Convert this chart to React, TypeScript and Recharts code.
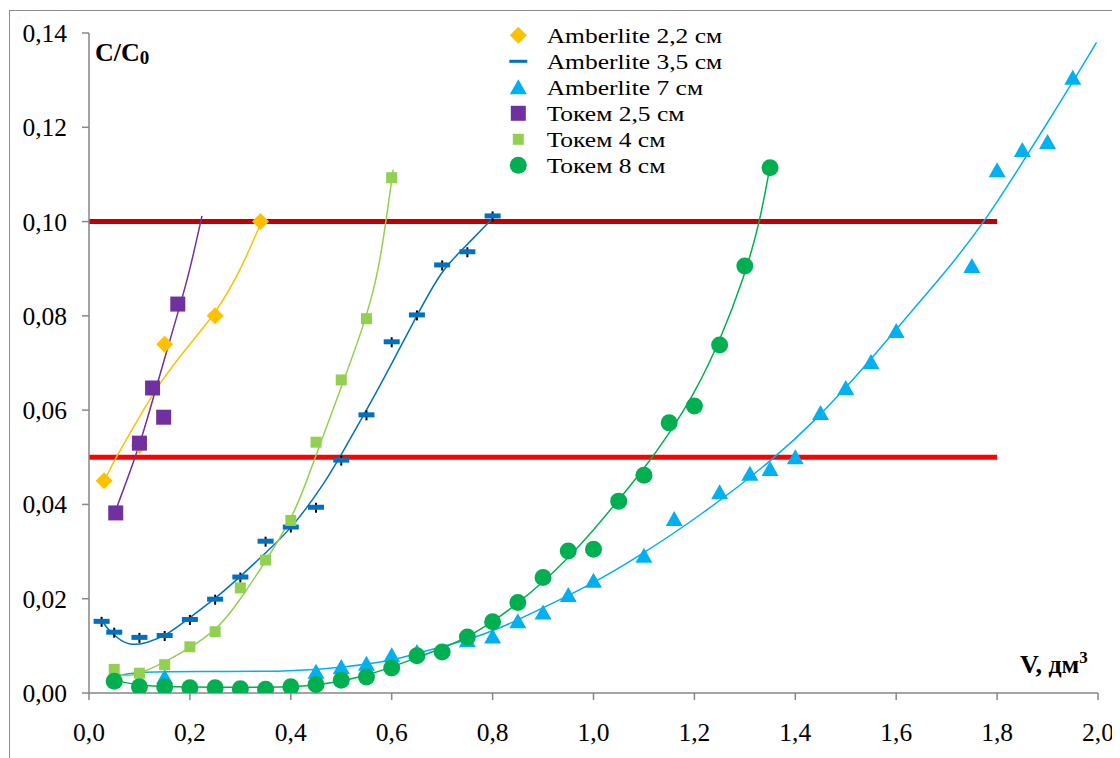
import React from 'react';
import { ComposedChart, Line, Scatter, XAxis, YAxis } from 'recharts';

const FONT = '"Liberation Serif", "Times New Roman", serif';

// Amberlite 2,2 см
const amb22X = [0.03, 0.1, 0.15, 0.25, 0.34];
const amb22Y = [0.045, 0.0525, 0.074, 0.08, 0.1];
const amb22TrendX = [0.031, 0.054, 0.1, 0.14, 0.193, 0.252, 0.299, 0.342];
const amb22TrendY = [0.0452, 0.0501, 0.0586, 0.0658, 0.0732, 0.0806, 0.0893, 0.1];

// Amberlite 3,5 см
const amb35X = [0.025, 0.05, 0.1, 0.15, 0.2, 0.25, 0.3, 0.35, 0.4, 0.45, 0.5, 0.55, 0.6, 0.65, 0.7, 0.75, 0.8];
const amb35Y = [0.0152, 0.0129, 0.0118, 0.0122, 0.0156, 0.0199, 0.0246, 0.0322, 0.0352, 0.0394, 0.0494, 0.059, 0.0745, 0.0802, 0.0908, 0.0936, 0.1012];
const amb35TrendX = [0.025, 0.035, 0.055, 0.08, 0.115, 0.155, 0.2, 0.25, 0.3, 0.353, 0.405, 0.47, 0.5, 0.577, 0.65, 0.7, 0.735, 0.8];
const amb35TrendY = [0.0155, 0.0138, 0.0117, 0.01, 0.0106, 0.0123, 0.016, 0.02, 0.0247, 0.03, 0.0353, 0.045, 0.0506, 0.065, 0.0802, 0.0898, 0.0935, 0.1007];

// Amberlite 7 см
const amb7X = [0.15, 0.45, 0.5, 0.55, 0.6, 0.65, 0.75, 0.8, 0.85, 0.9, 0.95, 1.0, 1.1, 1.16, 1.25, 1.31, 1.35, 1.4, 1.45, 1.5, 1.55, 1.6, 1.75, 1.8, 1.85, 1.9, 1.95];
const amb7Y = [0.0034, 0.0045, 0.0055, 0.0062, 0.008, 0.0087, 0.0112, 0.012, 0.0152, 0.0171, 0.0208, 0.0238, 0.0291, 0.0369, 0.0426, 0.0465, 0.0475, 0.05, 0.0594, 0.0647, 0.0702, 0.0768, 0.0906, 0.1109, 0.1152, 0.1169, 0.1305];
const amb7TrendX = [0.05, 0.09, 0.2, 0.4, 0.51, 0.6, 0.65, 0.735, 0.8, 0.9, 1.01, 1.078, 1.21, 1.3625, 1.45, 1.5, 1.55, 1.6, 1.7, 1.777, 1.85, 1.9, 1.95, 1.997];
const amb7TrendY = [0.0035, 0.0045, 0.0046, 0.0045, 0.0055, 0.0069, 0.0084, 0.0108, 0.013, 0.018, 0.0239, 0.0282, 0.0374, 0.05, 0.059, 0.0648, 0.0708, 0.0772, 0.0895, 0.1002, 0.1125, 0.121, 0.1296, 0.138];

// Токем 2,5 см
const tok25X = [0.053, 0.1, 0.126, 0.148, 0.176];
const tok25Y = [0.0382, 0.053, 0.0647, 0.0585, 0.0825];
const tok25TrendX = [0.054, 0.1, 0.13, 0.153, 0.18, 0.2, 0.224];
const tok25TrendY = [0.0391, 0.0522, 0.0636, 0.0721, 0.082, 0.0897, 0.1012];

// Токем 4 см
const tok4X = [0.05, 0.1, 0.15, 0.2, 0.25, 0.3, 0.35, 0.4, 0.45, 0.5, 0.55, 0.6];
const tok4Y = [0.005, 0.0042, 0.006, 0.0098, 0.013, 0.0223, 0.0282, 0.0366, 0.0532, 0.0664, 0.0794, 0.1093];
const tok4TrendX = [0.051, 0.081, 0.153, 0.251, 0.299, 0.352, 0.404, 0.431, 0.45, 0.5, 0.55, 0.576, 0.593, 0.603];
const tok4TrendY = [0.0042, 0.0031, 0.0066, 0.0127, 0.0197, 0.0282, 0.0374, 0.0448, 0.0505, 0.0648, 0.0795, 0.0905, 0.1035, 0.111];

// Токем 8 см
const tok8X = [0.05, 0.1, 0.15, 0.2, 0.25, 0.3, 0.35, 0.4, 0.45, 0.5, 0.55, 0.6, 0.65, 0.7, 0.75, 0.8, 0.85, 0.9, 0.95, 1.0, 1.05, 1.1, 1.15, 1.2, 1.25, 1.3, 1.35];
const tok8Y = [0.0025, 0.0013, 0.0013, 0.0011, 0.0011, 0.0009, 0.0008, 0.0013, 0.0018, 0.0027, 0.0034, 0.0053, 0.0079, 0.0087, 0.0119, 0.0151, 0.0192, 0.0245, 0.0301, 0.0305, 0.0407, 0.0462, 0.0573, 0.0609, 0.0738, 0.0906, 0.1114];
const tok8TrendX = [0.05, 0.1, 0.15, 0.3, 0.4, 0.45, 0.5, 0.55, 0.6, 0.65, 0.7, 0.75, 0.8, 0.85, 0.9, 0.946, 1.0, 1.05, 1.1, 1.15, 1.2, 1.25, 1.3, 1.33, 1.351];
const tok8TrendY = [0.0027, 0.0016, 0.0013, 0.0012, 0.0013, 0.0017, 0.0025, 0.0037, 0.0055, 0.0075, 0.0095, 0.0118, 0.0151, 0.019, 0.0235, 0.0282, 0.0345, 0.041, 0.0475, 0.055, 0.0635, 0.0745, 0.0885, 0.1, 0.1124];

// limit lines
const limitX = [0, 1.8];
const limitHighY = [0.1, 0.1];
const limitLowY = [0.05, 0.05];

const xTicks = [0, 0.2, 0.4, 0.6, 0.8, 1.0, 1.2, 1.4, 1.6, 1.8, 2.0];
const yTicks = [0, 0.02, 0.04, 0.06, 0.08, 0.1, 0.12, 0.14];

const pts = (xs: number[], ys: number[]) => xs.map((x, i) => ({ x, y: ys[i] }));

type Kind = 'diamond' | 'dash' | 'triangle' | 'square' | 'smallSquare' | 'circle';

function Marker({ kind, cx, cy, color, legend }: { kind: Kind; cx: number; cy: number; color: string; legend?: boolean }) {
  switch (kind) {
    case 'diamond':
      return <polygon points={`${cx},${cy - 8.5} ${cx + 8.5},${cy} ${cx},${cy + 8.5} ${cx - 8.5},${cy}`} fill={color} />;
    case 'dash':
      if (legend) return <rect x={cx - 9} y={cy - 1.5} width={18} height={3} fill={color} />;
      return (
        <g>
          <line x1={cx} x2={cx} y1={cy - 4.5} y2={cy + 5.5} stroke="#000" strokeWidth={2} />
          <rect x={cx - 8} y={cy - 2.5} width={16} height={5} fill={color} />
        </g>
      );
    case 'triangle':
      return <polygon points={`${cx},${cy - 8} ${cx + 8.5},${cy + 7} ${cx - 8.5},${cy + 7}`} fill={color} />;
    case 'square':
      return <rect x={cx - 7.5} y={cy - 7.5} width={15} height={15} fill={color} />;
    case 'smallSquare':
      return <rect x={cx - 5.5} y={cy - 5.5} width={11} height={11} fill={color} />;
    default:
      return <circle cx={cx} cy={cy} r={8.5} fill={color} />;
  }
}

const series = [
  { name: 'Amberlite 2,2 см', kind: 'diamond' as Kind, color: '#FFC000', data: pts(amb22X, amb22Y), trend: pts(amb22TrendX, amb22TrendY) },
  { name: 'Amberlite 3,5 см', kind: 'dash' as Kind, color: '#0070C0', data: pts(amb35X, amb35Y), trend: pts(amb35TrendX, amb35TrendY) },
  { name: 'Amberlite 7 см', kind: 'triangle' as Kind, color: '#00B0F0', data: pts(amb7X, amb7Y), trend: pts(amb7TrendX, amb7TrendY) },
  { name: 'Токем 2,5 см', kind: 'square' as Kind, color: '#7030A0', data: pts(tok25X, tok25Y), trend: pts(tok25TrendX, tok25TrendY) },
  { name: 'Токем 4 см', kind: 'smallSquare' as Kind, color: '#92D050', data: pts(tok4X, tok4Y), trend: pts(tok4TrendX, tok4TrendY) },
  { name: 'Токем 8 см', kind: 'circle' as Kind, color: '#00B050', data: pts(tok8X, tok8Y), trend: pts(tok8TrendX, tok8TrendY) },
];

const textStyle = { fontFamily: FONT };

export default function App() {
  return (
    <div style={{ position: 'relative', width: 1112, height: 750, overflow: 'hidden', background: '#fff', fontFamily: FONT }}>
      <div style={{ position: 'absolute', left: 1, top: 2, width: 1200, height: 800, border: '1.5px solid #8c8c8c' }} />
      <ComposedChart width={1112} height={750} margin={{ top: 25, right: 22, bottom: 20, left: 21 }} style={{ position: 'absolute', left: 0, top: 0 }}>
        <XAxis
          type="number"
          dataKey="x"
          domain={[0, 2]}
          ticks={xTicks}
          tickFormatter={(v: number) => v.toFixed(1).replace('.', ',')}
          stroke="#868686"
          strokeWidth={1.5}
          tick={{ fill: '#000', fontSize: 25.5, fontFamily: FONT, style: textStyle }}
          tickSize={7}
          tickMargin={23}
          height={45}
          allowDataOverflow
        />
        <YAxis
          type="number"
          dataKey="y"
          domain={[0, 0.14]}
          ticks={yTicks}
          tickFormatter={(v: number) => v.toFixed(2).replace('.', ',')}
          stroke="#868686"
          strokeWidth={1.5}
          tick={{ fill: '#000', fontSize: 25.5, fontFamily: FONT, style: textStyle }}
          tickSize={7}
          tickMargin={15}
          width={60}
          allowDataOverflow
        />
        <Line data={pts(limitX, limitHighY)} dataKey="y" stroke="#C00000" strokeWidth={5} dot={false} activeDot={false} isAnimationActive={false} />
        <Line data={pts(limitX, limitLowY)} dataKey="y" stroke="#FF0000" strokeWidth={5} dot={false} activeDot={false} isAnimationActive={false} />
        {series.map((s) => (
          <Scatter
            key={s.name}
            name={s.name}
            data={s.data}
            dataKey="y"
            fill={s.color}
            isAnimationActive={false}
            shape={(p: any) => <Marker kind={s.kind} cx={p.cx} cy={p.cy} color={s.color} />}
          />
        ))}
        {series.map((s) => (
          <Line
            key={s.name + '-trend'}
            data={s.trend}
            dataKey="y"
            type="basis"
            stroke={s.color}
            strokeWidth={1.5}
            dot={false}
            activeDot={false}
            isAnimationActive={false}
          />
        ))}
      </ComposedChart>
      <svg width={1112} height={750} style={{ position: 'absolute', left: 0, top: 0, pointerEvents: 'none' }}>
        {series.map((s, i) => (
          <g key={s.name}>
            <Marker kind={s.kind} cx={510.3} cy={35.3 + i * 26 - 8} color={s.color} legend />
            <text
              x={0}
              y={0}
              transform={`translate(538.7 ${35.3 + i * 26}) scale(1.16 1)`}
              fontSize={22}
              fontFamily={FONT}
              fill="#000"
              style={textStyle}
            >
              {s.name}
            </text>
          </g>
        ))}
        <text x={87} y={52.7} fontSize={26} fontWeight="bold" fontFamily={FONT} fill="#000" style={textStyle}>
          C/C
          <tspan fontSize={19} dy={3.6}>0</tspan>
        </text>
        <text x={1012} y={665} fontSize={26} fontWeight="bold" fontFamily={FONT} fill="#000" style={textStyle}>
          V, дм
          <tspan fontSize={17} dy={-10}>3</tspan>
        </text>
      </svg>
    </div>
  );
}
